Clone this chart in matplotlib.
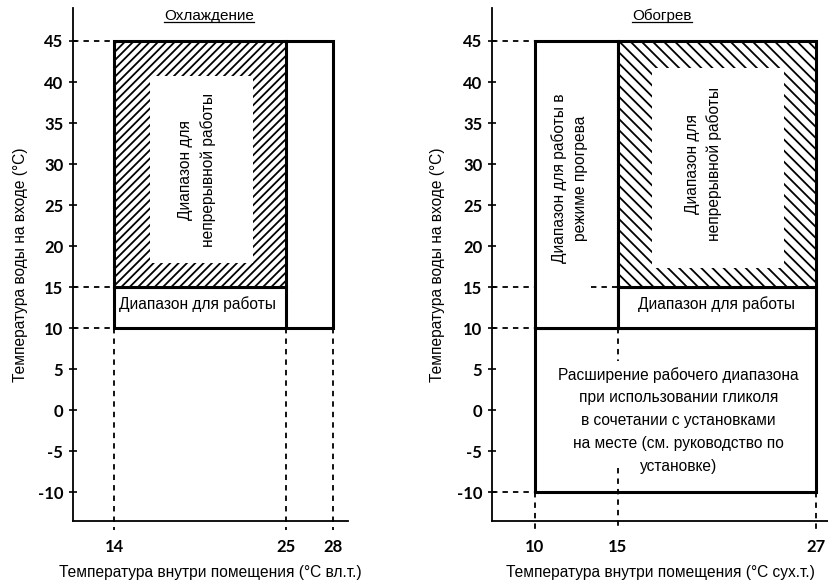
import matplotlib.pyplot as plt
from matplotlib.patches import Rectangle
from matplotlib.lines import Line2D

# диапазоны (x0, x1, y0, y1)
cool_cont = (14, 25, 15, 45)
cool_work = (14, 25, 10, 15)
cool_ext = (25, 28, 10, 45)
cool_xticks = [14, 25, 28]

heat_cont = (15, 27, 15, 45)
heat_work = (15, 27, 10, 15)
heat_warm = (10, 15, 10, 45)
heat_glycol = (10, 27, -10, 10)
heat_xticks = [10, 15, 27]

y_ticks = [45, 40, 35, 30, 25, 20, 15, 10, 5, 0, -5, -10]

plt.rcParams['font.family'] = ['Liberation Sans Narrow', 'Liberation Sans', 'DejaVu Sans']
plt.rcParams['hatch.linewidth'] = 1.3

FS = 11.2

fig = plt.figure(figsize=(8.29, 5.81), dpi=100)
ax1 = fig.add_axes([0.088, 0.103, 0.332, 0.883])
ax2 = fig.add_axes([0.5935, 0.103, 0.4065, 0.883])

ax1.set_xlim(11.35, 29)
ax2.set_xlim(7.4, 27.8)
YMIN, YMAX = -13.5, 49
LW = 2.2
dash = dict(color='black', lw=1.3, ls=(0, (3, 2.8)), clip_on=False)


def rect(ax, r, **kw):
    x0, x1, y0, y1 = r
    p = Rectangle((x0, y0), x1 - x0, y1 - y0, edgecolor='black',
                  facecolor=kw.pop('fc', 'white'), lw=kw.pop('lw', LW), **kw)
    ax.add_patch(p)


def style(ax, xt, xlabel, title, tx, ylab_x):
    ax.set_ylim(YMIN, YMAX)
    ax.spines['top'].set_visible(False)
    ax.spines['right'].set_visible(False)
    ax.spines['left'].set_linewidth(1.3)
    ax.spines['bottom'].set_linewidth(1.3)
    ax.set_yticks(y_ticks)
    ax.set_yticklabels([str(v) for v in y_ticks], family='Lato', weight='bold', fontsize=12)
    ax.set_xticks(xt)
    ax.set_xticklabels([str(v) for v in xt], family='Lato', weight='bold', fontsize=12)
    ax.tick_params(axis='y', direction='inout', length=6, width=1.2, pad=4)
    ax.tick_params(axis='x', length=0, pad=13)
    ax.set_ylabel('Температура воды на входе (°C)', fontsize=FS)
    ax.yaxis.set_label_coords(ylab_x, 0.5)
    ax.set_xlabel(xlabel, fontsize=FS)
    ax.xaxis.set_label_coords(0.5, -0.086)
    t = ax.text(tx, 47.56, title, ha='center', va='baseline', fontsize=11)
    return t


# --- Охлаждение ---
x0, x1, y0, y1 = cool_ext
ax1.plot([x0, x1, x1, x0], [y1, y1, y0, y0], color='black', lw=LW, solid_joinstyle='miter')
ax1.plot([x0, x1], [y0, y0], color='black', lw=1.2)
rect(ax1, cool_work)
rect(ax1, cool_cont, hatch='////')
ax1.add_patch(Rectangle((16.3, 18.0), 6.6, 22.7, facecolor='white', lw=0, zorder=3))
ax1.text(19.3, 29.3, 'Диапазон для\nнепрерывной работы', rotation=90, ha='center',
         va='center', multialignment='center', fontsize=FS, linespacing=1.5, zorder=4)
ax1.text(14.3, 12.9, 'Диапазон для работы', ha='left', va='center', fontsize=FS)
for y in [45, 15, 10]:
    ax1.plot([11.35, 14], [y, y], **dash)
for x in cool_xticks:
    ax1.plot([x, x], [10, -14.6], **dash)
t1 = style(ax1, cool_xticks, 'Температура внутри помещения (°C вл.т.)', 'Охлаждение', 20.1, -0.165)

# --- Обогрев ---
rect(ax2, heat_glycol)
rect(ax2, heat_warm)
rect(ax2, heat_work)
rect(ax2, heat_cont, hatch='\\\\\\')
ax2.add_patch(Rectangle((17.1, 17.4), 8.0, 24.3, facecolor='white', lw=0, zorder=3))
ax2.text(20.2, 30.0, 'Диапазон для\nнепрерывной работы', rotation=90, ha='center',
         va='center', multialignment='center', fontsize=FS, linespacing=1.5, zorder=4)
ax2.text(12.1, 28.3, 'Диапазон для работы в\nрежиме прогрева', rotation=90, ha='center',
         va='center', multialignment='center', fontsize=FS, linespacing=1.5)
ax2.text(21.0, 12.9, 'Диапазон для работы', ha='center', va='center', fontsize=FS)
ax2.text(18.7, -1.2, 'Расширение рабочего диапазона\nпри использовании гликоля\n'
         'в сочетании с установками\nна месте (см. руководство по\nустановке)',
         ha='center', va='center', multialignment='center', fontsize=FS, linespacing=1.65)
for y in [45, 15, 10, -10]:
    ax2.plot([7.4, 10], [y, y], **dash)
ax2.plot([13.4, 15], [15, 15], **dash)
ax2.plot([15, 15], [10, 6], **dash)
ax2.plot([15, 15], [-7, -14.6], **dash)
for x in [10, 27]:
    ax2.plot([x, x], [-10, -14.6], **dash)
t2 = style(ax2, heat_xticks, 'Температура внутри помещения (°C сух.т.)', 'Обогрев', 17.7, -0.14)

# подчёркивание заголовков
fig.canvas.draw()
inv = fig.transFigure.inverted()
for t in (t1, t2):
    bb = t.get_window_extent()
    x0, _ = inv.transform((bb.x0, 0))
    x1, _ = inv.transform((bb.x1, 0))
    _, yb = inv.transform(t.get_transform().transform((0, 47.56)))
    fig.add_artist(Line2D([x0, x1], [yb - 0.004, yb - 0.004], color='black', lw=0.9))

fig.savefig('out.png', dpi=100)
